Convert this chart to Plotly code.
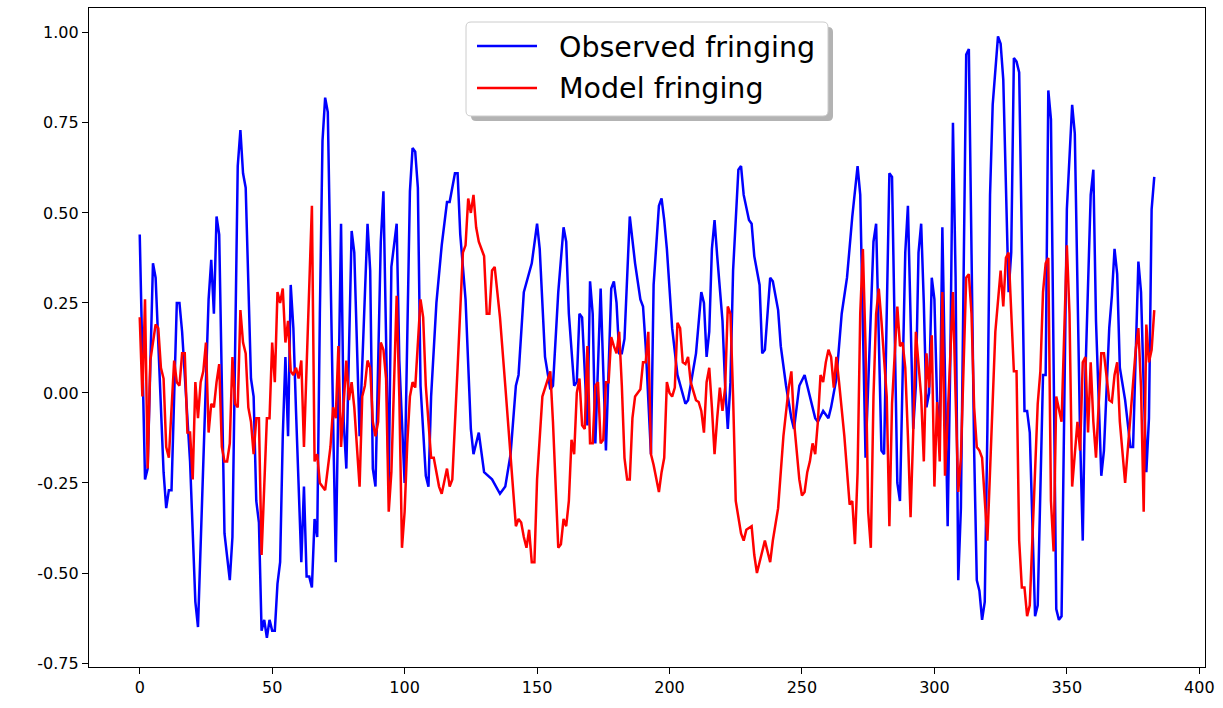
import plotly.graph_objects as go

# Observed fringing: sample index and amplitude
obs_x = [0, 2, 3, 5, 6, 9, 10, 11, 12, 14, 15, 16, 19, 21, 22, 23, 26, 27, 28, 29, 30, 32, 33, 34, 35,
         37, 38, 39, 40, 42, 43, 44, 45, 46, 47, 48, 49, 50, 51, 52, 53, 54, 55, 56, 57, 58, 59, 61, 62,
         63, 64, 65, 66, 67, 68, 69, 70, 71, 73, 74, 75, 76, 77, 78, 80, 81, 83, 86, 87, 88, 89, 91, 92,
         93, 94, 95, 97, 98, 100, 102, 103, 104, 105, 106, 108, 109, 110, 112, 114, 116, 117, 119, 120,
         121, 123, 125, 126, 128, 130, 133, 136, 138, 140, 142, 143, 145, 147, 148, 150, 151, 153, 155,
         156, 158, 160, 161, 162, 164, 165, 166, 167, 169, 170, 171, 172, 174, 175, 176, 178, 179, 180,
         181, 182, 183, 185, 187, 189, 190, 191, 193, 194, 196, 197, 198, 199, 201, 203, 206, 207, 210,
         212, 213, 214, 215, 216, 217, 218, 220, 221, 222, 223, 224, 226, 227, 228, 230, 231, 232, 234,
         235, 236, 237, 238, 239, 241, 242, 244, 246, 247, 249, 251, 252, 255, 256, 258, 260, 261, 263,
         265, 267, 269, 271, 272, 274, 277, 278, 280, 281, 283, 284, 286, 287, 289, 290, 292, 293, 294,
         295, 296, 297, 298, 299, 300, 301, 302, 303, 304, 305, 306, 307, 308, 309, 310, 312, 313, 315,
         316, 317, 318, 319, 320, 321, 322, 324, 325, 326, 328, 329, 330, 331, 332, 334, 335, 336, 338,
         339, 341, 342, 343, 344, 346, 347, 348, 350, 352, 353, 355, 356, 357, 359, 360, 361, 363, 364,
         366, 367, 368, 369, 370, 372, 374, 375, 377, 378, 379, 380, 381, 382, 383]
obs_y = [0.44, -0.24, -0.21, 0.36, 0.32, -0.22, -0.32, -0.27, -0.27, 0.25, 0.25, 0.17, -0.19, -0.58,
         -0.65, -0.41, 0.26, 0.37, 0.22, 0.49, 0.44, -0.39, -0.45, -0.52, -0.40, 0.63, 0.73, 0.61, 0.57,
         0.04, -0.01, -0.30, -0.36, -0.66, -0.63, -0.68, -0.63, -0.66, -0.66, -0.53, -0.47, -0.12, 0.10,
         -0.12, 0.30, 0.18, -0.05, -0.47, -0.26, -0.51, -0.51, -0.54, -0.35, -0.40, 0.22, 0.70, 0.82,
         0.78, -0.07, -0.47, -0.01, 0.47, -0.08, -0.21, 0.45, 0.39, -0.12, 0.47, 0.34, -0.21, -0.26,
         0.42, 0.56, 0.15, -0.26, 0.35, 0.47, 0.09, -0.25, 0.56, 0.68, 0.67, 0.57, 0.02, -0.23, -0.26,
         -0.01, 0.25, 0.41, 0.53, 0.53, 0.61, 0.61, 0.44, 0.26, -0.10, -0.17, -0.11, -0.22, -0.24, -0.28,
         -0.26, -0.17, 0.02, 0.05, 0.28, 0.33, 0.36, 0.47, 0.40, 0.10, 0.01, 0.02, 0.28, 0.46, 0.42,
         0.22, 0.02, 0.03, 0.22, 0.21, -0.09, 0.31, 0.22, -0.14, 0.29, 0.06, -0.16, 0.29, 0.31, 0.25,
         0.11, 0.11, 0.15, 0.49, 0.36, 0.26, 0.24, 0.13, -0.17, 0.30, 0.52, 0.54, 0.48, 0.40, 0.18, 0.05,
         -0.03, -0.02, 0.11, 0.28, 0.25, 0.10, 0.17, 0.40, 0.48, 0.38, 0.20, 0.02, -0.10, 0.03, 0.34,
         0.62, 0.63, 0.55, 0.48, 0.47, 0.38, 0.30, 0.11, 0.12, 0.22, 0.32, 0.31, 0.23, 0.13, 0.02, -0.07,
         -0.10, 0.02, 0.05, 0.02, -0.07, -0.08, -0.05, -0.07, -0.04, 0.04, 0.22, 0.32, 0.49, 0.63, 0.55,
         -0.18, 0.42, 0.47, -0.16, -0.17, 0.61, 0.60, -0.25, -0.30, 0.39, 0.52, -0.10, 0.02, 0.39, 0.47,
         0.25, -0.04, 0.00, 0.32, 0.26, -0.02, -0.12, 0.46, 0.09, -0.37, 0.09, 0.75, 0.32, -0.52, -0.32,
         0.94, 0.955, -0.16, -0.52, -0.55, -0.63, -0.58, -0.10, 0.55, 0.80, 0.99, 0.97, 0.87, 0.28, 0.39,
         0.93, 0.92, 0.89, -0.05, -0.05, -0.11, -0.62, -0.59, 0.05, 0.05, 0.84, 0.76, -0.60, -0.63,
         -0.62, 0.51, 0.80, 0.72, -0.12, -0.41, 0.05, 0.55, 0.62, 0.20, -0.23, -0.16, 0.18, 0.27, 0.40,
         0.33, 0.07, -0.02, -0.15, -0.15, 0.365, 0.28, 0.02, -0.22, -0.07, 0.51, 0.60]

# Model fringing: sample index and amplitude
model_x = [0, 1, 2, 3, 4, 6, 7, 8, 9, 10, 11, 13, 14, 15, 16, 17, 18, 19, 20, 21, 22, 23, 24, 25, 26,
           27, 28, 29, 30, 31, 32, 33, 34, 35, 36, 37, 38, 39, 40, 41, 42, 43, 44, 45, 46, 48, 49, 50,
           51, 52, 53, 54, 55, 56, 57, 58, 59, 60, 61, 62, 65, 66, 67, 68, 70, 72, 73, 74, 75, 76, 77,
           78, 79, 80, 81, 83, 84, 85, 86, 87, 88, 89, 90, 91, 92, 93, 94, 95, 97, 98, 99, 100, 101,
           102, 103, 104, 106, 107, 108, 110, 111, 113, 114, 116, 117, 118, 120, 122, 123, 124, 125,
           126, 127, 128, 130, 131, 132, 133, 134, 136, 138, 140, 141, 142, 143, 144, 145, 146, 147,
           148, 149, 150, 152, 154, 155, 156, 158, 159, 160, 161, 162, 163, 164, 165, 166, 167, 168,
           169, 170, 171, 172, 173, 174, 175, 176, 177, 178, 179, 180, 181, 182, 183, 184, 185, 186,
           187, 188, 189, 190, 191, 192, 193, 194, 196, 197, 198, 199, 200, 201, 202, 203, 204, 205,
           206, 207, 208, 210, 211, 212, 213, 214, 215, 216, 217, 218, 219, 220, 221, 222, 223, 224,
           225, 227, 228, 229, 231, 232, 233, 234, 236, 238, 239, 241, 243, 245, 246, 247, 249, 250,
           251, 252, 253, 254, 255, 256, 257, 258, 259, 260, 261, 262, 263, 264, 265, 266, 268, 269,
           270, 271, 272, 273, 274, 275, 276, 277, 278, 279, 280, 282, 283, 284, 286, 287, 288, 289,
           290, 291, 292, 293, 295, 296, 297, 298, 299, 300, 301, 302, 303, 304, 305, 307, 308, 309,
           310, 312, 313, 314, 315, 316, 317, 318, 320, 322, 323, 325, 326, 327, 328, 330, 331, 332,
           333, 334, 335, 336, 339, 340, 341, 342, 343, 344, 345, 346, 347, 348, 350, 351, 352, 353,
           354, 355, 356, 357, 358, 359, 360, 361, 363, 364, 365, 366, 367, 368, 369, 370, 372, 373,
           375, 376, 377, 378, 379, 380, 381, 382, 383]
model_y = [0.21, -0.01, 0.26, -0.21, 0.09, 0.19, 0.18, 0.07, 0.04, -0.15, -0.18, 0.09, 0.03, 0.02,
           0.11, 0.11, -0.11, -0.11, -0.24, 0.03, -0.07, 0.03, 0.06, 0.14, -0.11, -0.03, -0.04, 0.03,
           0.08, -0.15, -0.19, -0.19, -0.14, 0.10, -0.03, -0.04, 0.23, 0.14, 0.11, -0.04, -0.08, -0.17,
           -0.07, -0.07, -0.45, -0.07, -0.07, 0.14, 0.03, 0.28, 0.25, 0.29, 0.14, 0.20, 0.06, 0.05, 0.07,
           0.04, 0.09, -0.15, 0.52, -0.19, -0.17, -0.25, -0.27, -0.15, -0.04, -0.07, 0.13, -0.15, -0.03,
           0.09, -0.02, 0.03, -0.04, -0.26, -0.01, 0.02, 0.09, 0.07, -0.08, -0.12, -0.08, 0.14, 0.12,
           0.04, -0.33, -0.22, 0.27, -0.01, -0.43, -0.33, -0.14, -0.01, 0.03, 0.015, 0.26, 0.21, 0.02,
           -0.18, -0.18, -0.26, -0.28, -0.21, -0.26, -0.24, 0.07, 0.39, 0.41, 0.54, 0.50, 0.55, 0.46,
           0.42, 0.38, 0.22, 0.22, 0.34, 0.35, 0.21, 0.02, -0.18, -0.27, -0.37, -0.35, -0.36, -0.40,
           -0.43, -0.38, -0.47, -0.47, -0.24, -0.01, 0.04, 0.06, -0.08, -0.43, -0.42, -0.35, -0.37,
           -0.30, -0.13, -0.17, 0.00, 0.04, -0.09, -0.10, 0.13, -0.14, -0.14, 0.02, 0.03, -0.14, -0.13,
           0.03, 0.03, 0.155, 0.13, 0.11, 0.17, 0.02, -0.18, -0.24, -0.24, -0.07, -0.01, 0.00, 0.01,
           0.085, 0.085, 0.17, -0.17, -0.20, -0.275, -0.22, -0.18, 0.03, 0.00, -0.01, 0.015, 0.195, 0.18,
           0.085, 0.08, 0.10, 0.03, -0.02, -0.025, -0.05, -0.11, 0.03, 0.07, -0.04, -0.17, -0.07, 0.015,
           -0.05, 0.015, 0.24, 0.22, -0.01, -0.30, -0.39, -0.41, -0.38, -0.37, -0.45, -0.50, -0.47,
           -0.41, -0.47, -0.41, -0.32, -0.12, 0.015, 0.06, -0.08, -0.24, -0.285, -0.275, -0.22, -0.19,
           -0.14, -0.17, -0.08, 0.05, 0.03, 0.085, 0.12, 0.10, 0.015, 0.10, 0.03, -0.05, -0.12, -0.31,
           -0.30, -0.42, -0.22, 0.22, 0.40, 0.13, -0.33, -0.43, -0.01, 0.22, 0.29, 0.20, -0.01, -0.37,
           -0.03, 0.24, 0.13, 0.14, 0.07, -0.12, -0.345, -0.11, 0.17, -0.01, -0.19, 0.11, 0.015, 0.16,
           -0.26, -0.025, -0.19, 0.28, -0.23, -0.07, 0.28, -0.01, -0.275, -0.18, 0.32, 0.33, 0.22, -0.04,
           -0.15, -0.16, -0.18, -0.41, -0.01, 0.17, 0.34, 0.24, 0.375, 0.39, 0.06, 0.06, -0.41, -0.54,
           -0.54, -0.62, -0.59, -0.03, 0.06, 0.28, 0.36, 0.375, -0.30, -0.44, -0.01, -0.05, -0.08, 0.41,
           0.22, -0.26, -0.18, -0.08, -0.16, 0.085, 0.10, -0.11, 0.085, -0.08, -0.18, 0.11, 0.11, 0.04,
           -0.02, -0.025, 0.05, 0.085, -0.08, -0.25, -0.16, 0.04, 0.12, 0.18, 0.015, -0.33, 0.19, 0.085,
           0.12, 0.23]

x_ticks = [0, 50, 100, 150, 200, 250, 300, 350, 400]
y_ticks = [-0.75, -0.50, -0.25, 0.00, 0.25, 0.50, 0.75, 1.00]
series_names = ["Observed fringing", "Model fringing"]
series_colors = ["#0000ff", "#ff0000"]

FONT = "DejaVu Sans, Liberation Sans, sans-serif"

fig = go.Figure()
fig.add_trace(go.Scatter(x=obs_x, y=obs_y, mode="lines", name=series_names[0],
                         line=dict(color=series_colors[0], width=2.5), showlegend=False))
fig.add_trace(go.Scatter(x=model_x, y=model_y, mode="lines", name=series_names[1],
                         line=dict(color=series_colors[1], width=2.5), showlegend=False))

axis_common = dict(showline=True, linecolor="black", linewidth=1.3, mirror=True,
                   ticks="outside", ticklen=6, tickwidth=1.3, tickcolor="black",
                   showgrid=False, zeroline=False,
                   tickfont=dict(family=FONT, size=16, color="black"))

fig.update_xaxes(range=[-19.15, 402.15], tickvals=x_ticks,
                 ticktext=[str(v) for v in x_ticks], **axis_common)
fig.update_yaxes(range=[-0.761, 1.069], tickvals=y_ticks,
                 ticktext=[f"{v:.2f}" for v in y_ticks], **axis_common)

# Legend box drawn in paper coordinates: rounded frame with a drop shadow
def rounded_rect(x0, y0, x1, y1, rx, ry):
    return (f"M{x0 + rx},{y1} L{x1 - rx},{y1} Q{x1},{y1} {x1},{y1 - ry} "
            f"L{x1},{y0 + ry} Q{x1},{y0} {x1 - rx},{y0} L{x0 + rx},{y0} "
            f"Q{x0},{y0} {x0},{y0 + ry} L{x0},{y1 - ry} Q{x0},{y1} {x0 + rx},{y1} Z")

W_PLOT, H_PLOT = 1116.0, 659.0
L_PX, T_PX = 89.0, 8.0

def px(xp):
    return (xp - L_PX) / W_PLOT

def py(yp):
    return 1 - (yp - T_PX) / H_PLOT

rx, ry = 5 / W_PLOT, 5 / H_PLOT
shapes = [
    dict(type="path", xref="paper", yref="paper", layer="above",
         path=rounded_rect(px(471), py(121), px(833), py(27), rx, ry),
         fillcolor="rgba(128,128,128,0.6)", line=dict(width=0)),
    dict(type="path", xref="paper", yref="paper", layer="above",
         path=rounded_rect(px(466), py(116), px(828), py(22), rx, ry),
         fillcolor="white", line=dict(color="#cccccc", width=1)),
]
row_y = [46, 88]
annotations = []
for name, color, yrow in zip(series_names, series_colors, row_y):
    shapes.append(dict(type="line", xref="paper", yref="paper", layer="above",
                       x0=px(477), x1=px(537), y0=py(yrow), y1=py(yrow),
                       line=dict(color=color, width=2.5)))
    annotations.append(dict(xref="paper", yref="paper", x=px(557), y=py(yrow + 1),
                            xanchor="left", yanchor="middle", showarrow=False,
                            text=name, font=dict(family=FONT, size=28.5, color="black")))

fig.update_layout(width=1223, height=708, autosize=False,
                  margin=dict(l=89, r=18, t=8, b=41),
                  paper_bgcolor="white", plot_bgcolor="white",
                  shapes=shapes, annotations=annotations, showlegend=False)

fig.write_html("out.html")
